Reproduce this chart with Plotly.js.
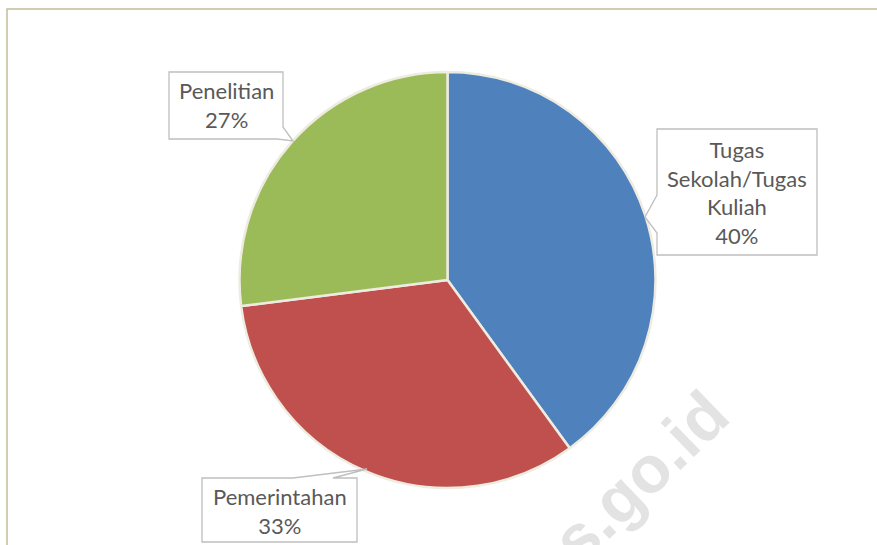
<!DOCTYPE html>
<html>
<head>
<meta charset="utf-8">
<script src="https://cdn.plot.ly/plotly-3.0.1.min.js"></script>
<style>
  html, body { margin: 0; padding: 0; background: #ffffff; }
  #chart { width: 877px; height: 545px; }
</style>
</head>
<body>
<div id="chart"></div>
<script>
const categories = ["Tugas Sekolah/Tugas Kuliah", "Pemerintahan", "Penelitian"];
const labelLines = ["Tugas<br>Sekolah/Tugas<br>Kuliah", "Pemerintahan", "Penelitian"];
const shares = [40, 33, 27];
const colors = ["#4F81BD", "#C0504D", "#9BBB59"];

const W = 877;
const H = 545;

// callout boxes in page pixels (box + pointer drawn as one outline)
const callouts = [
  { cx: 737, cy: 192, path: "M657,129 H817 V255 H657 V233 L645,217 L657,195 Z" },
  { cx: 280, cy: 511, path: "M202,478 H293 L367,469 L333,478 H357 V542 H202 Z" },
  { cx: 226, cy: 105, path: "M169,72 H283 V127 L293,141 L277,139 H169 Z" },
];

const pie = {
  type: "pie",
  labels: categories,
  values: shares,
  sort: false,
  direction: "clockwise",
  rotation: 0,
  textinfo: "none",
  hoverinfo: "skip",
  showlegend: false,
  marker: { colors: colors, line: { color: "#EEECE1", width: 2.5 } },
  domain: { x: [239 / W, 656 / W], y: [1 - 488 / H, 1 - 72 / H] },
};

const shapes = [
  {
    type: "rect", xref: "x", yref: "y", x0: 7, y0: 9, x1: 885, y1: 560,
    line: { color: "#C4BD97", width: 1.5 }, layer: "below",
  },
];
callouts.forEach((c) => {
  shapes.push({
    type: "path", xref: "x", yref: "y", path: c.path,
    fillcolor: "#ffffff", line: { color: "#BFBFBF", width: 1.3 }, layer: "above",
  });
});

const annotations = categories.map((name, i) => ({
  xref: "x", yref: "y",
  x: callouts[i].cx, y: callouts[i].cy,
  text: `${labelLines[i]}<br>${shares[i]}%`,
  showarrow: false,
  xanchor: "center", yanchor: "middle", align: "center",
  font: { family: "Lato, sans-serif", size: 22, color: "#595959" },
}));

// watermark, partly cut by the lower edge as in the original
annotations.push({
  xref: "x", yref: "y", x: 640, y: 477,
  text: "<b>s.go.id</b>",
  showarrow: false, textangle: -44,
  xanchor: "center", yanchor: "middle",
  font: { family: "Liberation Sans, Arial, sans-serif", size: 66, color: "#E3E3E3" },
});

const layout = {
  width: W,
  height: H,
  margin: { t: 0, r: 0, b: 0, l: 0 },
  paper_bgcolor: "#ffffff",
  plot_bgcolor: "rgba(0,0,0,0)",
  xaxis: { range: [0, W], visible: false, fixedrange: true },
  yaxis: { range: [H, 0], visible: false, fixedrange: true },
  shapes: shapes,
  annotations: annotations,
};

Plotly.newPlot("chart", [pie], layout, { displayModeBar: false, staticPlot: true });
</script>
</body>
</html>
